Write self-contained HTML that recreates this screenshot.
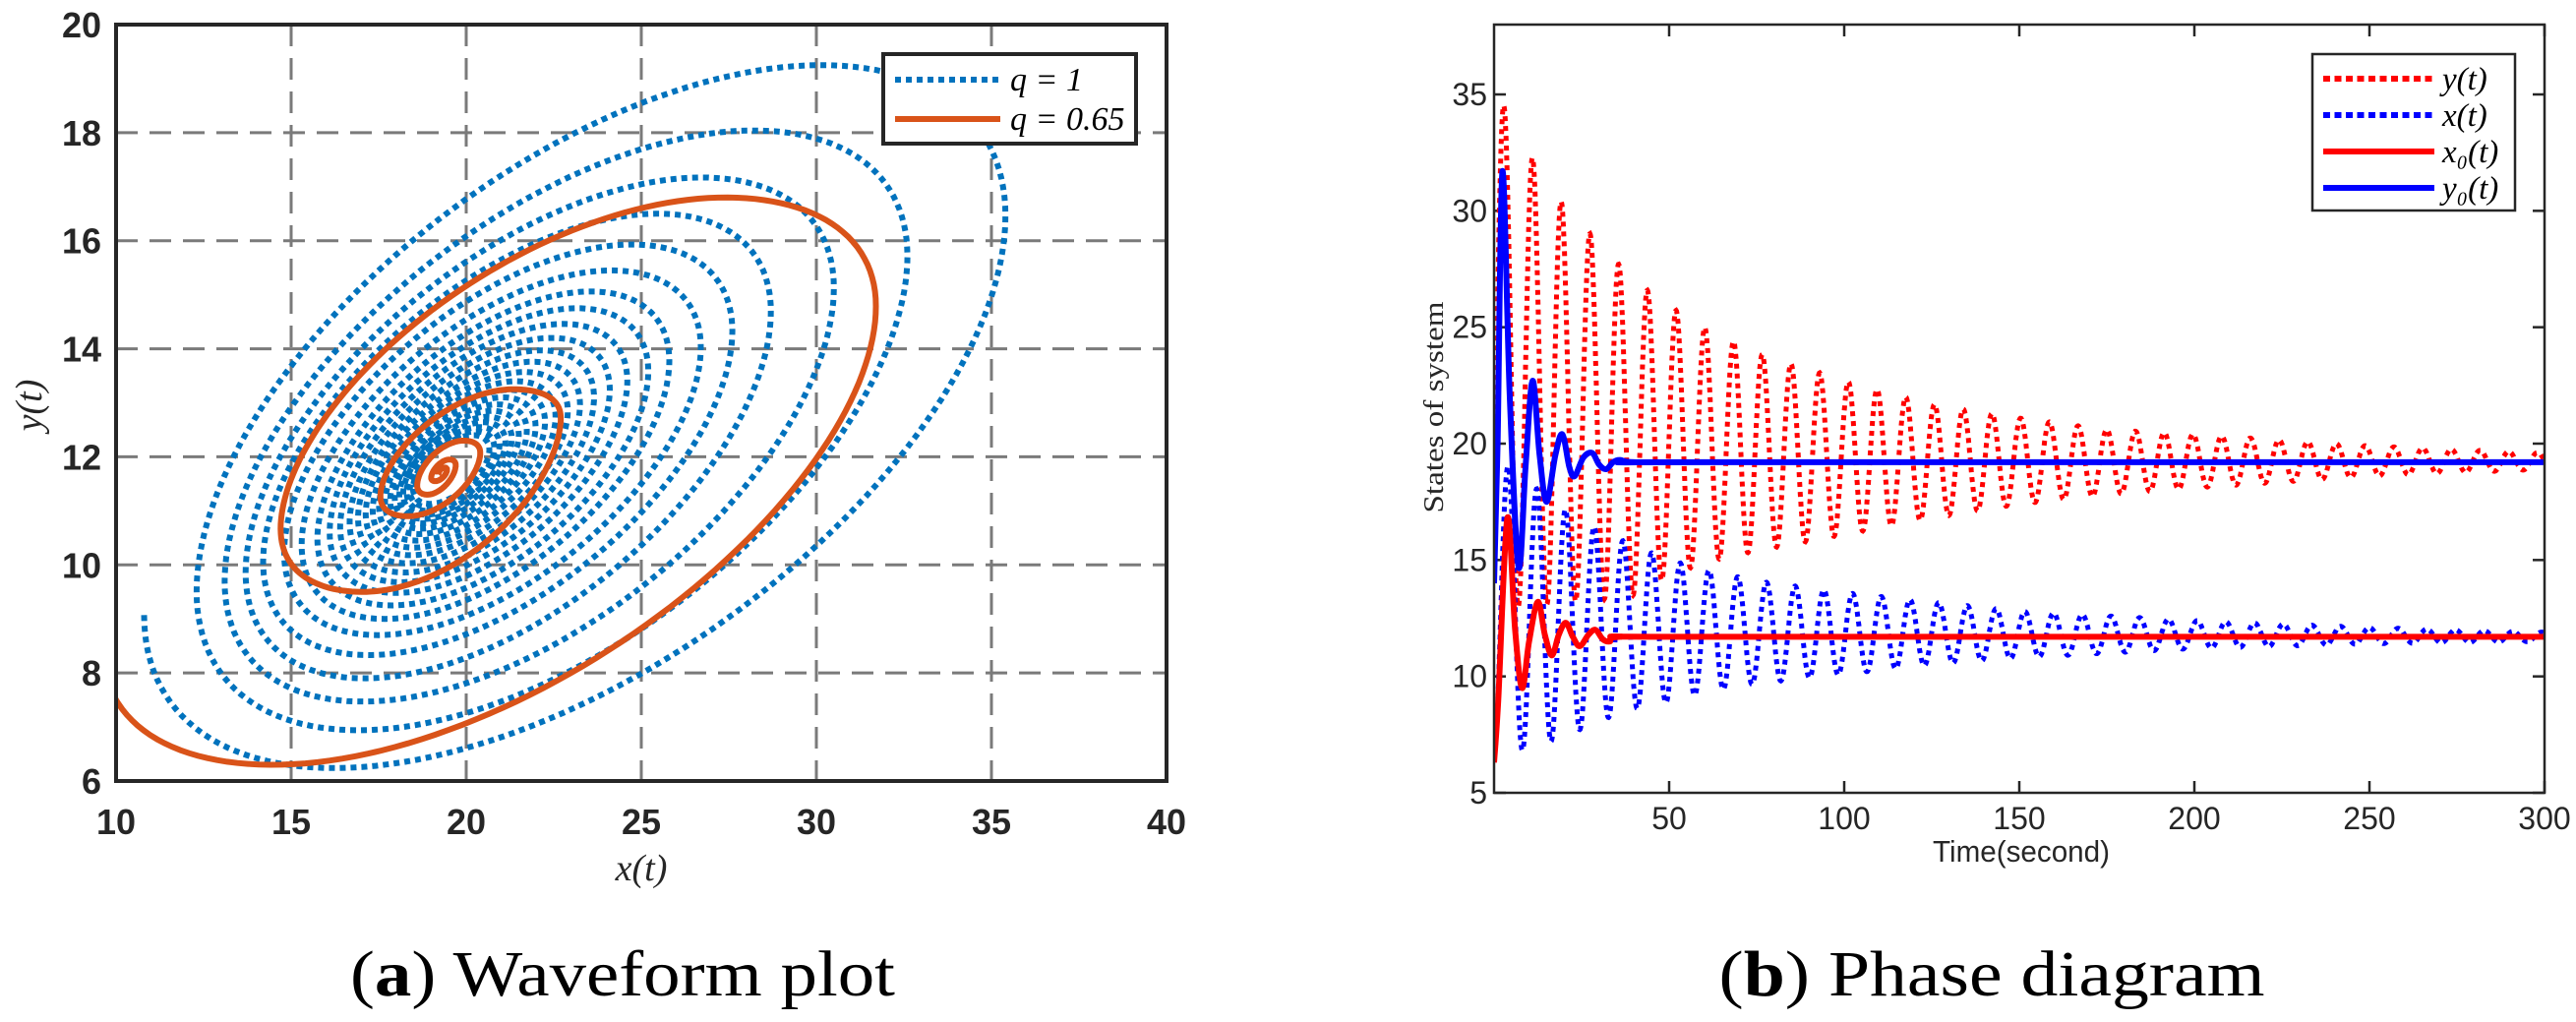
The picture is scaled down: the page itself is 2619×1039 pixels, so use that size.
<!DOCTYPE html>
<html><head><meta charset="utf-8"><style>
html,body{margin:0;padding:0;background:#fff;}
svg{display:block;}
.tk{font-family:"Liberation Sans",sans-serif;}
.mt{font-family:"Liberation Serif",serif;font-style:italic;}
</style></head><body>
<svg id="fig" width="2619" height="1039" viewBox="0 0 2619 1039" xmlns="http://www.w3.org/2000/svg">
<defs>
<clipPath id="clipA"><rect x="118" y="25" width="1068" height="769"/></clipPath>
<clipPath id="clipB"><rect x="1519" y="25" width="1068" height="781"/></clipPath>
</defs>
<g id="panelA"></g>
<g id="panelB"></g>
</svg>
<script>
// ===== Panel (a) data: per-turn extremes of the phase spirals =====
const aXTicks = [10, 15, 20, 25, 30, 35, 40];
const aYTicks = [6, 8, 10, 12, 14, 16, 18, 20];
const q1Left   = [10.8,12.3,13.1,13.7,14.2,14.8,15.3,15.75,16.1,16.4,16.67,16.91,17.13,17.33,17.51,17.68,17.83,17.96,18.09,18.2,18.3,18.39,18.48,18.55];
const q1Right  = [35.4,32.6,30.5,28.7,27.6,26.7,25.8,25.2,24.6,24.1,23.65,23.25,22.9,22.55,22.25,21.98,21.73,21.5,21.3,21.12,20.95,20.8,20.66,20.53];
const q1Top    = [19.25,18.04,17.17,16.5,15.93,15.45,15.06,14.75,14.46,14.2,13.97,13.76,13.57,13.4,13.24,13.1,12.97,12.85,12.74,12.64,12.55,12.47,12.4,12.33];
const q1Bottom = [6.24,6.94,7.47,7.9,8.33,8.7,9.0,9.25,9.48,9.68,9.86,10.03,10.18,10.32,10.45,10.57,10.67,10.77,10.85,10.93,11.0,11.07,11.13,11.18];
const q065Left   = [9.6, 14.7, 17.55, 18.6, 19.0, 19.2];
const q065Right  = [31.7, 22.7, 20.4, 19.7, 19.45, 19.35];
const q065Top    = [16.8, 13.25, 12.3, 11.95, 11.8, 11.75];
const q065Bottom = [6.3, 9.5, 10.9, 11.3, 11.55, 11.65];

// ===== Panel (b) data =====
const bXTicks = [50, 100, 150, 200, 250, 300];
const bYTicks = [5, 10, 15, 20, 25, 30, 35];
const envT = [0,10,20,30,40,50,60,75,100,125,150,175,200,250,300];
const yUpper = [35.3,32.5,30.2,28.6,27,25.9,25,23.9,22.7,21.7,21.1,20.6,20.4,19.9,19.6];
const yLower = [13,13,13.2,13.3,13.5,14.3,14.9,15.4,16.1,16.8,17.4,17.8,18.1,18.6,18.9];
const xUpper = [19.5,18.3,17.2,16.3,15.6,15,14.6,14.1,13.6,13.2,12.8,12.6,12.4,12.1,11.9];
const xLower = [6.5,6.9,7.4,8.1,8.6,8.9,9.3,9.7,10.1,10.5,10.8,11,11.2,11.4,11.5];
const y0T = [0,1,2.4,4.5,7,9,11,13,15,17.5,19.5,21.5,23,25.5,28,30,32,34,36,40,60,300];
const y0V = [14,20,31.7,22,14.7,19,22.7,19.5,17.5,19.5,20.4,19,18.6,19.4,19.6,19.1,18.9,19.2,19.3,19.2,19.2,19.2];
const x0T = [0,1.2,3.8,6,8,10,12.5,14.5,16.5,18.5,20.5,22.5,24.5,27,29,31,33,36,60,300];
const x0V = [6.3,9,16.8,12,9.5,11.5,13.2,11.8,10.9,11.8,12.3,11.7,11.3,11.8,12,11.6,11.5,11.7,11.7,11.7];
const oscPeriod = 8.2;

const NS = "http://www.w3.org/2000/svg";
function mk(tag, attrs, parent, text){
  const e = document.createElementNS(NS, tag);
  for (const k in attrs) e.setAttribute(k, attrs[k]);
  if (text !== undefined) e.textContent = text;
  parent.appendChild(e);
  return e;
}
function interp(ts, vs, t){
  if (t <= ts[0]) return vs[0];
  for (let i=1;i<ts.length;i++){ if (t <= ts[i]){ const f=(t-ts[i-1])/(ts[i]-ts[i-1]); return vs[i-1]+f*(vs[i]-vs[i-1]); } }
  return vs[vs.length-1];
}
function smoothPath(pts){
  let d = "M"+pts[0][0].toFixed(1)+","+pts[0][1].toFixed(1);
  for (let i=0;i<pts.length-1;i++){
    const p0=pts[Math.max(0,i-1)], p1=pts[i], p2=pts[i+1], p3=pts[Math.min(pts.length-1,i+2)];
    const c1=[p1[0]+(p2[0]-p0[0])/6, p1[1]+(p2[1]-p0[1])/6];
    const c2=[p2[0]-(p3[0]-p1[0])/6, p2[1]-(p3[1]-p1[1])/6];
    d += " C"+c1[0].toFixed(1)+","+c1[1].toFixed(1)+" "+c2[0].toFixed(1)+","+c2[1].toFixed(1)+" "+p2[0].toFixed(1)+","+p2[1].toFixed(1);
  }
  return d;
}

// ===== Panel (a) =====
const A = document.getElementById('panelA');
const ax = v => 118 + (v-10)*(1068/30);
const ay = v => 794 - (v-6)*(769/14);
aXTicks.forEach(v=>{
  if (v>10 && v<40){
    const l = mk('line',{x1:ax(v),x2:ax(v),y1:25,y2:794,stroke:'#7a7a7a','stroke-width':3,'stroke-dasharray':'22 12'},A);
    
    
  }
  const t = mk('text',{x:ax(v),y:848,'text-anchor':'middle','font-size':36,'font-weight':'bold',fill:'#262626',class:'tk'},A,String(v));
  
  
});
aYTicks.forEach(v=>{
  if (v>6 && v<20){
    const l = mk('line',{x1:118,x2:1186,y1:ay(v),y2:ay(v),stroke:'#7a7a7a','stroke-width':3,'stroke-dasharray':'22 12'},A);
    
    
  }
  const t = mk('text',{x:103,y:ay(v)+13,'text-anchor':'end','font-size':36,'font-weight':'bold',fill:'#262626',class:'tk'},A,String(v));
  
  
});
function at(arr,u){
  const n=arr.length-1;
  if (u<=0) return arr[0];
  if (u>=n) return arr[n];
  const k=Math.floor(u), f=u-k;
  const g=f*f*(3-2*f);
  return arr[k]+g*(arr[k+1]-arr[k]);
}
function spiral(L,R,T,B,psi){
  const pts=[]; const turns=L.length-1; const steps=turns*180;
  const offB=0.25-psi/(2*Math.PI), offR=0.5, offT=0.75-psi/(2*Math.PI);
  for (let s=0;s<=steps;s++){
    const u=s/180;
    const xl=at(L,u), xr=at(R,u-offR), yt=at(T,u-offT), yb=at(B,u-offB);
    const th=Math.PI+2*Math.PI*u;
    const x=(xl+xr)/2+(xr-xl)/2*Math.cos(th);
    const y=(yt+yb)/2+(yt-yb)/2*Math.sin(th+psi);
    pts.push([ax(x),ay(y)]);
  }
  return pts.map((p,i)=>(i?'L':'M')+p[0].toFixed(1)+','+p[1].toFixed(1)).join('');
}
const gA = mk('g',{'clip-path':'url(#clipA)'},A);
const s1 = mk('path',{d:spiral(q1Left,q1Right,q1Top,q1Bottom,0.6),fill:'none',stroke:'#0072bd','stroke-width':6,'stroke-dasharray':'6 5'},gA);


const s2 = mk('path',{d:spiral(q065Left,q065Right,q065Top,q065Bottom,0.62),fill:'none',stroke:'#d95319','stroke-width':6},gA);


const boxA = mk('rect',{x:118,y:25,width:1068,height:769,fill:'none',stroke:'#262626','stroke-width':4},A);


const lgA = mk('g',{},A);


mk('rect',{x:898,y:55,width:257,height:91,fill:'#fff',stroke:'#262626','stroke-width':4},lgA);
mk('line',{x1:910,x2:1017,y1:81,y2:81,stroke:'#0072bd','stroke-width':6,'stroke-dasharray':'6 5'},lgA);
mk('line',{x1:910,x2:1017,y1:121,y2:121,stroke:'#d95319','stroke-width':6},lgA);
const la1 = mk('text',{x:1027,y:92,'font-size':34,fill:'#000',class:'mt'},lgA,'q = 1');


const la2 = mk('text',{x:1027,y:132,'font-size':34,fill:'#000',class:'mt'},lgA,'q = 0.65');


const xlA = mk('text',{x:652,y:895,'text-anchor':'middle','font-size':38,fill:'#262626',class:'mt'},A,'x(t)');


const ylA = mk('text',{x:0,y:0,'text-anchor':'middle','font-size':38,fill:'#262626',class:'mt',transform:'translate(42,412) rotate(-90)'},A,'y(t)');


const capA = mk('text',{x:356,y:1012,'font-size':66,fill:'#000','font-family':'Liberation Serif, serif',textLength:554,lengthAdjust:'spacingAndGlyphs'},A);


mk('tspan',{},capA,'(');
mk('tspan',{'font-weight':'bold'},capA,'a');
mk('tspan',{},capA,') Waveform plot');

// ===== Panel (b) =====
const Bp = document.getElementById('panelB');
const bx = t => 1519 + t*(1068/300);
const by = v => 806 - (v-5)*(710/30);
bXTicks.forEach(v=>{
  mk('line',{x1:bx(v),x2:bx(v),y1:806,y2:794,stroke:'#262626','stroke-width':2.5},Bp);
  mk('line',{x1:bx(v),x2:bx(v),y1:25,y2:37,stroke:'#262626','stroke-width':2.5},Bp);
  const t = mk('text',{x:bx(v),y:843,'text-anchor':'middle','font-size':32,fill:'#262626',class:'tk'},Bp,String(v));
  
  
});
bYTicks.forEach(v=>{
  mk('line',{x1:1519,x2:1531,y1:by(v),y2:by(v),stroke:'#262626','stroke-width':2.5},Bp);
  mk('line',{x1:2587,x2:2575,y1:by(v),y2:by(v),stroke:'#262626','stroke-width':2.5},Bp);
  const t = mk('text',{x:1512,y:by(v)+11,'text-anchor':'end','font-size':32,fill:'#262626',class:'tk'},Bp,String(v));
  
  
});
const gB = mk('g',{'clip-path':'url(#clipB)'},Bp);
function osc(U,L,t0){
  let d='';
  for (let t=0;t<=300;t+=0.1){
    const u=interp(envT,U,t), l=interp(envT,L,t);
    const v=(u+l)/2+(u-l)/2*Math.cos(2*Math.PI*(t-t0)/oscPeriod);
    d+=(t?'L':'M')+bx(t).toFixed(1)+','+by(v).toFixed(1);
  }
  return d;
}
const py = mk('path',{d:osc(yUpper,yLower,2.8),fill:'none',stroke:'#ff0000','stroke-width':5,'stroke-dasharray':'5 5'},gB);


const px = mk('path',{d:osc(xUpper,xLower,4.0),fill:'none',stroke:'#0000ff','stroke-width':5,'stroke-dasharray':'5 5'},gB);


const px0 = mk('path',{d:smoothPath(x0T.map((t,i)=>[bx(t),by(x0V[i])])),fill:'none',stroke:'#ff0000','stroke-width':6},gB);


const py0 = mk('path',{d:smoothPath(y0T.map((t,i)=>[bx(t),by(y0V[i])])),fill:'none',stroke:'#0000ff','stroke-width':6},gB);


const boxB = mk('rect',{x:1519,y:25,width:1068,height:781,fill:'none',stroke:'#262626','stroke-width':2.5},Bp);


const lgB = mk('g',{},Bp);


mk('rect',{x:2351,y:55,width:206,height:159,fill:'#fff',stroke:'#262626','stroke-width':2.5},lgB);
const lgItems = [['y(t)','#ff0000',true],['x(t)','#0000ff',true],['x₀(t)','#ff0000',false],['y₀(t)','#0000ff',false]];
lgItems.forEach((it,i)=>{
  const yy = 80 + i*37;
  mk('line',{x1:2362,x2:2475,y1:yy,y2:yy,stroke:it[1],'stroke-width':6,'stroke-dasharray':it[2]?'7 4.5':'none'},lgB);
  const t = mk('text',{x:2483,y:yy+11,'font-size':33,fill:'#000',class:'mt'},lgB,it[0]);
  
  
});
const xlB = mk('text',{x:2055,y:876,'text-anchor':'middle','font-size':31,fill:'#262626',class:'tk',textLength:180,lengthAdjust:'spacingAndGlyphs'},Bp,'Time(second)');


const ylB = mk('text',{x:0,y:0,'text-anchor':'middle','font-size':29,fill:'#262626','font-family':'Liberation Serif, serif',textLength:215,lengthAdjust:'spacingAndGlyphs',transform:'translate(1467,414) rotate(-90)'},Bp,'States of system');


const capB = mk('text',{x:2025,y:1012,'text-anchor':'middle','font-size':66,fill:'#000','font-family':'Liberation Serif, serif',textLength:555,lengthAdjust:'spacingAndGlyphs'},Bp);


mk('tspan',{},capB,'(');
mk('tspan',{'font-weight':'bold'},capB,'b');
mk('tspan',{},capB,') Phase diagram');
</script>
</body></html>
